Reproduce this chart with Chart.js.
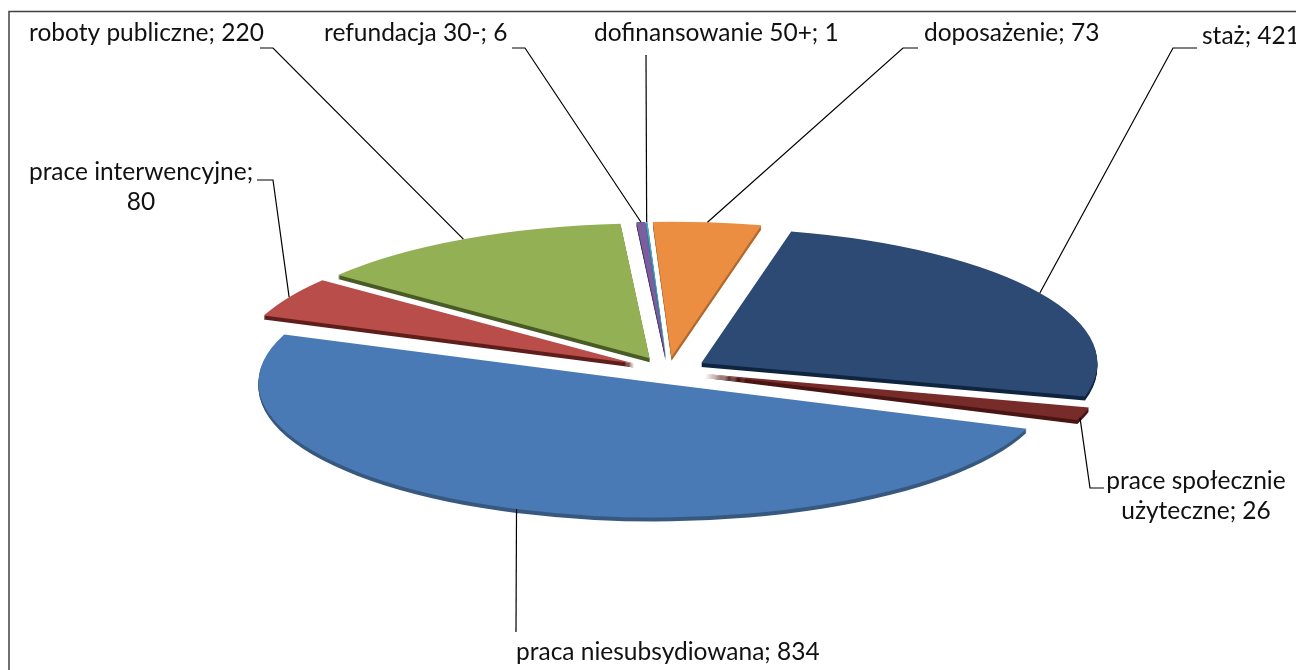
<!DOCTYPE html>
<html><head><meta charset="utf-8">
<style>html,body{margin:0;padding:0;background:#fff;overflow:hidden}#w{width:1296px;height:670px;position:relative}</style>
<script src="https://cdn.jsdelivr.net/npm/chart.js@4"></script>
</head><body><div id="w"><canvas id="c" width="1296" height="670"></canvas></div>
<script>
const categories=["praca niesubsydiowana","prace interwencyjne","roboty publiczne","refundacja 30-","dofinansowanie 50+","doposażenie","staż","prace społecznie użyteczne"];
const values=[834,80,220,6,1,73,421,26];
const topColors=["#4a7ab5","#b94d49","#94b055","#7b5e9e","#4aacc5","#ec8e42","#2c4a73","#772c2a"];
const sideColors=["#38597f","#5f1f1c","#4a5c26","#4a3668","#2a7a90","#b06a2f","#0f2540","#4a1614"];
// label layout: text lines, anchor x, first line centre y, align; elbow points; position along the rim of the slice
const labelLayout=[
 {lines:["praca niesubsydiowana; 834"],x:516,y:652,align:"left",path:[[516,632]],rim:.5},
 {lines:["prace interwencyjne;","80"],x:141,y:172,align:"center",path:[[257,180],[273,180]],rim:.5},
 {lines:["roboty publiczne; 220"],x:29,y:33,align:"left",path:[[260,48],[273,48]],rim:.5},
 {lines:["refundacja 30-; 6"],x:324,y:33,align:"left",path:[[512,48],[525,48]],rim:.5},
 {lines:["dofinansowanie 50+; 1"],x:594,y:33,align:"left",path:[[646,55]],rim:.5},
 {lines:["doposażenie; 73"],x:924,y:33,align:"left",path:[[918,48],[903,48]],rim:.5},
 {lines:["staż; 421"],x:1202,y:36,align:"left",path:[[1197,48],[1173,48]],rim:.5},
 {lines:["prace społecznie","użyteczne; 26"],x:1196,y:481,align:"center",path:[[1104,488],[1090,488]],rim:.8}
];
const CX=668,CY=370,RX=396,RY=135,EXPLODE=39,DEPTH=4;
function place(ctx,arc){
  const mid=(arc.startAngle+arc.endAngle)/2,R=arc.outerRadius;
  ctx.translate(CX+Math.cos(mid)*EXPLODE,CY+Math.sin(mid)*EXPLODE*RY/RX);
  ctx.scale(RX/R,RY/R);
  ctx.translate(-arc.x,-arc.y);
}
function rimPoint(arc,f){
  const mid=(arc.startAngle+arc.endAngle)/2;
  const a=arc.startAngle+(arc.endAngle-arc.startAngle)*f;
  return [CX+Math.cos(mid)*EXPLODE+Math.cos(a)*RX,CY+Math.sin(mid)*EXPLODE*RY/RX+Math.sin(a)*RY];
}
const flatPie={
  id:"flatPie",
  beforeDraw(chart){
    const ctx=chart.ctx;
    ctx.save();ctx.fillStyle="#fff";ctx.fillRect(0,0,1296,670);
    ctx.strokeStyle="#404040";ctx.lineWidth=1.5;
    ctx.beginPath();ctx.moveTo(9,672);ctx.lineTo(9,11.5);ctx.lineTo(1298,11.5);ctx.stroke();ctx.restore();
  },
  beforeDatasetDraw(chart){
    const ctx=chart.ctx,arcs=chart.getDatasetMeta(0).data;
    arcs.forEach((arc,i)=>{
      const side=Object.create(arc,{options:{value:Object.assign({},arc.options,{backgroundColor:sideColors[i],borderWidth:0})}});
      for(let d=DEPTH;d>=1;d--){
        ctx.save();ctx.translate(0,d);place(ctx,arc);side.draw(ctx);ctx.restore();
      }
      ctx.save();place(ctx,arc);arc.draw(ctx);ctx.restore();
    });
    return false;
  },
  afterDraw(chart){
    const ctx=chart.ctx,arcs=chart.getDatasetMeta(0).data;
    ctx.save();
    ctx.strokeStyle="#000";ctx.lineWidth=1.2;
    labelLayout.forEach((l,i)=>{
      const p=rimPoint(arcs[i],l.rim);
      ctx.beginPath();ctx.moveTo(p[0],p[1]);
      l.path.slice().reverse().forEach(q=>ctx.lineTo(q[0],q[1]));
      ctx.stroke();
    });
    ctx.fillStyle="#111";ctx.font='24.5px Lato';ctx.textBaseline="middle";
    labelLayout.forEach(l=>{
      ctx.textAlign=l.align;
      l.lines.forEach((t,k)=>ctx.fillText(t,l.x,l.y+k*30));
    });
    ctx.restore();
  }
};
new Chart(document.getElementById("c"),{
  type:"pie",
  data:{labels:categories,datasets:[{data:values,backgroundColor:topColors,borderWidth:0}]},
  options:{responsive:false,animation:false,rotation:110,events:[],
    layout:{padding:0},
    plugins:{legend:{display:false},tooltip:{enabled:false},title:{display:false}}},
  plugins:[flatPie]
});
</script></body></html>
